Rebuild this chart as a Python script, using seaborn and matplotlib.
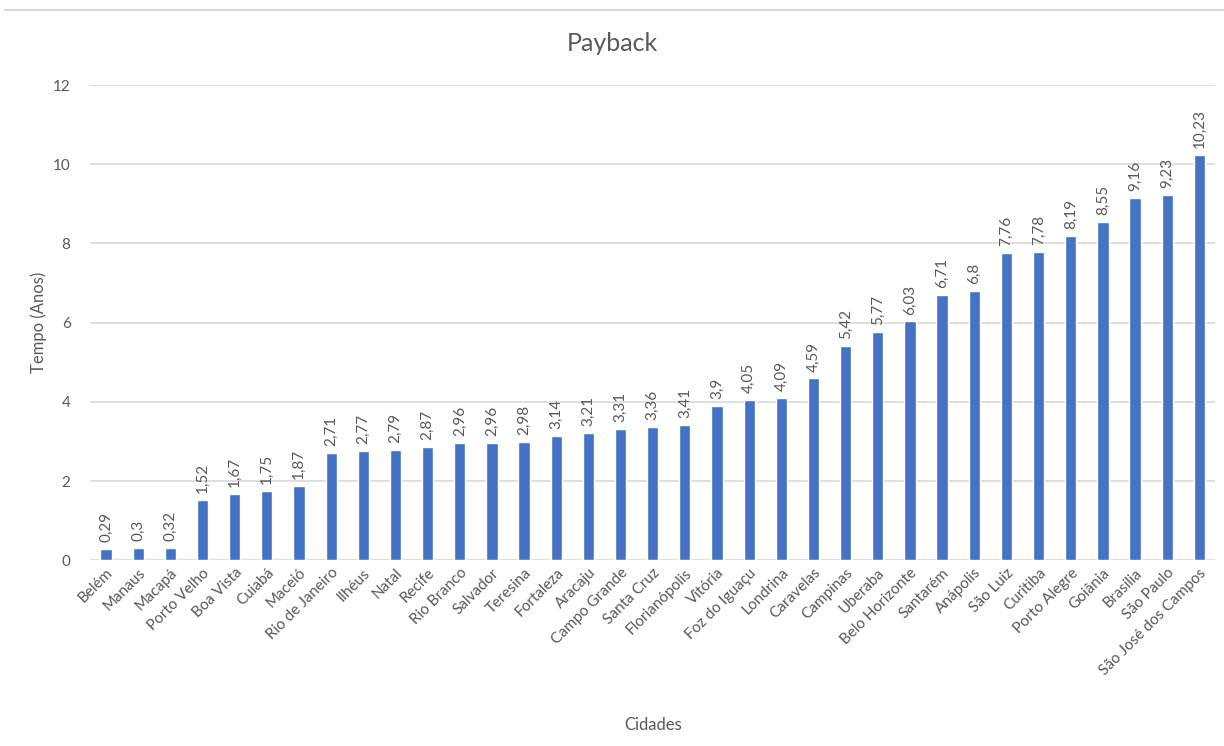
import matplotlib
matplotlib.use("Agg")
import matplotlib.pyplot as plt
import seaborn as sns
import pandas as pd
from matplotlib.lines import Line2D

cidades = [
    "Belém", "Manaus", "Macapá", "Porto Velho", "Boa Vista", "Cuiabá", "Maceió",
    "Rio de Janeiro", "Ilhéus", "Natal", "Recife", "Rio Branco", "Salvador",
    "Teresina", "Fortaleza", "Aracaju", "Campo Grande", "Santa Cruz",
    "Florianópolis", "Vitória", "Foz do Iguaçu", "Londrina", "Caravelas",
    "Campinas", "Uberaba", "Belo Horizonte", "Santarém", "Anápolis", "São Luiz",
    "Curitiba", "Porto Alegre", "Goiânia", "Brasília", "São Paulo",
    "São José dos Campos",
]
payback = [
    0.29, 0.3, 0.32, 1.52, 1.67, 1.75, 1.87, 2.71, 2.77, 2.79, 2.87, 2.96, 2.96,
    2.98, 3.14, 3.21, 3.31, 3.36, 3.41, 3.9, 4.05, 4.09, 4.59, 5.42, 5.77, 6.03,
    6.71, 6.8, 7.76, 7.78, 8.19, 8.55, 9.16, 9.23, 10.23,
]
y_ticks = [0, 2, 4, 6, 8, 10, 12]

sns.set_theme(style="white")
plt.rcParams["font.family"] = ["Lato", "DejaVu Sans"]

BAR = "#4472C4"
TXT = "#595959"
GRID = "#d9d9d9"

df = pd.DataFrame({"Cidade": cidades, "Payback": payback})

fig = plt.figure(figsize=(12.24, 7.46), dpi=100)
ax = fig.add_axes([0.0735, 0.249, 0.9195, 0.637])

sns.barplot(data=df, x="Cidade", y="Payback", color=BAR, width=0.35,
            saturation=1, ax=ax, zorder=3)

ax.set_ylim(0, 12)
ax.set_xlim(-0.5, len(cidades) - 0.5)
ax.set_yticks(y_ticks)
ax.set_yticklabels([str(t) for t in y_ticks], color=TXT, fontsize=11)
ax.yaxis.grid(True, color=GRID, linewidth=1.2, zorder=0)
ax.tick_params(axis="y", length=0, pad=14)
ax.tick_params(axis="x", length=0, pad=4)
for s in ax.spines.values():
    s.set_visible(False)

ax.set_xticks(range(len(cidades)))
ax.set_xticklabels(cidades, rotation=45, ha="right", rotation_mode="anchor",
                   color=TXT, fontsize=11)

for i, v in enumerate(payback):
    ax.annotate(f"{v:g}".replace(".", ","), (i, v), xytext=(0, 5),
                textcoords="offset points", rotation=90, ha="center",
                va="bottom", color=TXT, fontsize=11)

ax.set_xlabel("Cidades", color=TXT, fontsize=12)
ax.xaxis.set_label_coords(0.5, -0.33)
ax.set_ylabel("Tempo (Anos)", color=TXT, fontsize=12)
ax.yaxis.set_label_coords(-0.038, 0.5)

# chart title centred on the whole figure
fig.text(0.5, 0.942, "Payback", color=TXT, fontsize=18, ha="center",
         va="center")

fig.add_artist(Line2D([0.004, 1.0], [0.987, 0.987], color=GRID, linewidth=1.5,
                      transform=fig.transFigure))

fig.savefig("out.png", dpi=100, facecolor="white")
